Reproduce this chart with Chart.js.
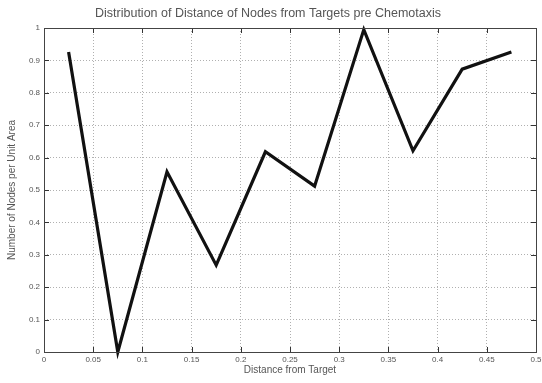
<!DOCTYPE html>
<html>
<head>
<meta charset="utf-8">
<script src="https://cdn.jsdelivr.net/npm/chart.js@4/dist/chart.umd.min.js"></script>
<style>
html,body{margin:0;padding:0;background:#fff;}
#wrap{width:542px;height:383px;position:relative;}
</style>
</head>
<body>
<div id="wrap"><canvas id="c" width="542" height="383"></canvas></div>
<script>
const distances = [0.025, 0.075, 0.125, 0.175, 0.225, 0.275, 0.325, 0.375, 0.425, 0.475];
const nodesPerArea = [0.926, 0.0, 0.556, 0.268, 0.618, 0.512, 0.995, 0.621, 0.873, 0.926];
const xTicks = [0, 0.05, 0.1, 0.15, 0.2, 0.25, 0.3, 0.35, 0.4, 0.45, 0.5];
const yTicks = [0, 0.1, 0.2, 0.3, 0.4, 0.5, 0.6, 0.7, 0.8, 0.9, 1];
const titleText = 'Distribution of Distance of Nodes from Targets pre Chemotaxis';
const xLabel = 'Distance from Target';
const yLabel = 'Number of Nodes per Unit Area';

const FONT = '"Liberation Sans", Arial, sans-serif';
const TXT = '#555';

const boxTicks = {
  id: 'boxTicks',
  afterDatasetsDraw(chart) {
    const {ctx, chartArea: a, scales: {x, y}} = chart;
    ctx.save();
    ctx.strokeStyle = '#333';
    ctx.lineWidth = 1;
    const L = 5;
    ctx.beginPath();
    xTicks.forEach(v => {
      const px = Math.round(x.getPixelForValue(v)) + 0.5;
      ctx.moveTo(px, a.bottom); ctx.lineTo(px, a.bottom - L);
      ctx.moveTo(px, a.top); ctx.lineTo(px, a.top + L);
    });
    yTicks.forEach(v => {
      const py = Math.round(y.getPixelForValue(v)) + 0.5;
      ctx.moveTo(a.left, py); ctx.lineTo(a.left + L, py);
      ctx.moveTo(a.right, py); ctx.lineTo(a.right - L, py);
    });
    ctx.stroke();
    ctx.strokeStyle = '#444';
    ctx.strokeRect(Math.round(a.left) + 0.5, Math.round(a.top) + 0.5,
                   Math.round(a.right - a.left), Math.round(a.bottom - a.top));
    ctx.restore();
  }
};

new Chart(document.getElementById('c'), {
  type: 'line',
  data: {
    datasets: [{
      data: distances.map((d, i) => ({x: d, y: nodesPerArea[i]})),
      borderColor: '#111',
      borderWidth: 3.2,
      pointRadius: 0,
      tension: 0,
      fill: false,
      clip: false
    }]
  },
  options: {
    responsive: false,
    animation: false,
    devicePixelRatio: 1,
    layout: {padding: {left: 0, right: 6, top: 0, bottom: 0}},
    plugins: {
      legend: {display: false},
      tooltip: {enabled: false},
      title: {
        display: true,
        text: titleText,
        color: TXT,
        font: {family: FONT, size: 12.5, weight: 'normal', lineHeight: 1.2},
        padding: {top: 6.5, bottom: 6.5}
      }
    },
    scales: {
      x: {
        type: 'linear',
        min: 0, max: 0.5,
        afterBuildTicks: s => { s.ticks = xTicks.map(v => ({value: v})); },
        afterFit: s => { s.height = 31; s.paddingLeft = 0; s.paddingRight = 0; },
        ticks: {
          color: TXT,
          font: {family: FONT, size: 8},
          padding: 3,
          maxRotation: 0,
          autoSkip: false,
          callback: v => String(+v.toFixed(2))
        },
        grid: {
          color: '#b0b0b0',
          lineWidth: 1,
          drawTicks: false
        },
        border: {display: false, dash: [1, 2]},
        title: {
          display: true,
          text: xLabel,
          color: TXT,
          font: {family: FONT, size: 10},
          padding: {top: 0, bottom: 7}
        }
      },
      y: {
        type: 'linear',
        min: 0, max: 1,
        afterBuildTicks: s => { s.ticks = yTicks.map(v => ({value: v})); },
        afterFit: s => { s.width = 44; s.paddingTop = 0; s.paddingBottom = 0; },
        ticks: {
          color: TXT,
          font: {family: FONT, size: 8},
          padding: 4,
          autoSkip: false,
          callback: v => String(+v.toFixed(2))
        },
        grid: {
          color: '#b0b0b0',
          lineWidth: 1,
          drawTicks: false
        },
        border: {display: false, dash: [1, 2]},
        title: {
          display: true,
          text: yLabel,
          color: TXT,
          font: {family: FONT, size: 10},
          padding: {top: 6, bottom: 0}
        }
      }
    }
  },
  plugins: [boxTicks]
});
</script>
</body>
</html>
